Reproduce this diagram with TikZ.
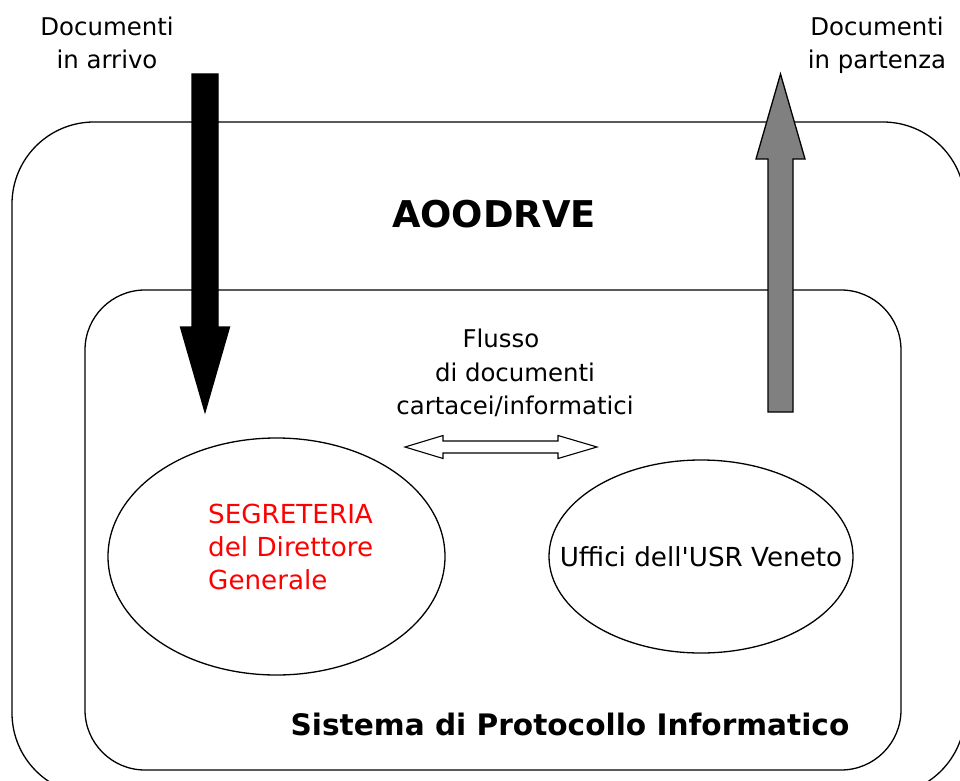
\documentclass[tikz,border=0pt]{standalone}
\usepackage{fontspec}
\setmainfont{DejaVu Sans}
\usepackage{xcolor}
\usepackage{tikz}
\usetikzlibrary{shapes.geometric}

\begin{document}
\begin{tikzpicture}[x=1bp,y=-1bp,
            box/.style={draw, line width=1.3bp, rounded corners=#1},
            blob/.style={shape=ellipse, draw, line width=1.3bp, inner sep=0pt, node contents=},
            txt/.style={font=\fontsize{24.5}{33.5}\selectfont, inner sep=0pt, align=center},
            inn/.style={font=\fontsize{26.3}{33}\selectfont, inner sep=0pt},
            big/.style={font=\bfseries\fontsize{37}{40}\selectfont, inner sep=0pt},
            mid/.style={font=\bfseries\fontsize{29.7}{32}\selectfont, inner sep=0pt},
            arr/.style={draw, line width=1.3bp, line join=miter}]
        \useasboundingbox (0,0) rectangle (960,781);
        \clip (0,0) rectangle (960,781);

        \draw[box=82bp] (12,122) rectangle (965,795);
        \draw[box=60bp] (85,290) rectangle (901,770);

        \node[big, anchor=base] (aoo) at (494,227) {AOODRVE};
        \node[mid, anchor=base] (spi) at (570,735) {Sistema di Protocollo Informatico};

        \node[txt, anchor=north] (arrivo) at (107,16.5) {Documenti\\in arrivo};
        \node[txt, anchor=north] (partenza) at (877,16.5) {Documenti\\in partenza};
        \node[txt, anchor=north] (flusso) at (515,329) {Flusso\hspace*{1.15em}\\di documenti\\cartacei/informatici};

        \node (segr) at (276.5,556.5) [blob, minimum width=337bp, minimum height=237bp];
        \node[inn, align=left, anchor=north west, text=red] (segrtxt) at (208,504) {SEGRETERIA\\del Direttore\\Generale};
        \node (uffici) at (701,556.5) [blob, minimum width=304bp, minimum height=193bp];
        \node[inn] (ufftxt) at (uffici) {Uffici dell\textquotesingle USR Veneto};

        \draw[arr, fill=black] (192,74) -- (218,74) -- (218,327) -- (229.5,327) -- (205,412) -- (180.5,327) -- (192,327) -- cycle;
        \draw[arr, fill=gray] (768,412) -- (793,412) -- (793,159) -- (805,159) -- (780.5,74) -- (756,159) -- (768,159) -- cycle;
        \draw[arr, fill=white, line width=1.1bp] (405,447) -- (443,435.5) -- (443,441) -- (558,441) -- (558,435.5) -- (597,447)
            -- (558,458.5) -- (558,453) -- (443,453) -- (443,458.5) -- cycle;
\end{tikzpicture}
\end{document}
